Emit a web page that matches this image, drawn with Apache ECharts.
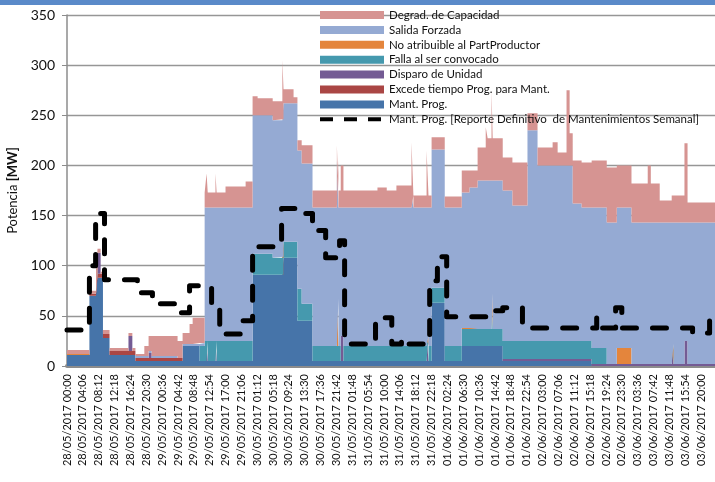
<!DOCTYPE html>
<html><head><meta charset="utf-8">
<script src="https://cdn.jsdelivr.net/npm/echarts@6/dist/echarts.min.js"></script>
<style>html,body{margin:0;padding:0;background:#fff}#c{width:715px;height:482px}</style>
</head><body><div id="c"></div>
<script>
// Hours since 28/05/2017 00:00 where the stacked values change (step: value holds until next point)
const hours = [0,5.8,7.5,7.9,8.7,9.3,11.0,15.9,16.9,17.7,
  20.0,21.1,21.9,28.6,29.9,31.7,32.5,34.3,35.6,36.1,
  36.4,38.4,38.7,41.0,46.2,48.0,49.3,53.2,55.7,56.0,
  58.6,59.6,60.7,63.5,69.8,70.2,70.8,71.5,80.3,82.7,
  85.2,89.1,89.6,93.0,93.5,94.3,97.7,102.1,104.1,106.2,
  108.3,108.8,109.8,110.1,112.7,115.2,119.1,121.7,125.6,126.9,
  129.2,130.0,130.8,133.1,135.7,139.6,142.2,146.0,150.2,151.0,
  153.3,156.4,156.9,159.7,160.5,168];
const mantProg = [11,70,88,88,88,28,11,11,11,5,
  5,5,5,5,20,20,20,5,5,5,
  5,5,5,5,5,91,91,91,91,108,
  108,45,45,5,5,5,5,5,5,5,
  5,5,5,5,5,63,5,20,20,20,
  20,20,20,20,5,5,5,5,5,5,
  5,5,5,5,0,0,0,0,0,0,
  0,0,0,0,0,0];
const excede = [0,2,4,4,4,4,4,4,4,3,
  3,3,3,3,0,0,0,0,0,0,
  0,0,0,0,0,0,0,0,0,0,
  0,0,0,0,0,0,0,0,0,0,
  0,0,0,0,0,0,0,0,0,0,
  0,0,0,0,0,0,0,0,0,0,
  0,0,0,0,0,0,0,0,0,0,
  0,0,0,0,0,0];
const disparo = [0,0,0,21,0,0,0,15,0,0,
  0,5,0,0,0,0,0,0,0,20,
  0,20,0,0,0,0,0,0,0,0,
  0,0,0,0,0,0,25,0,0,0,
  0,0,0,25,0,0,0,0,0,0,
  0,0,0,0,2,2,2,2,2,2,
  2,2,2,2,2,2,2,2,2,2,
  2,22,2,25,2,2];
const falla = [0,0,0,0,0,0,0,0,0,0,
  0,0,0,0,0,0,0,15,20,0,
  20,0,20,20,20,21,21,17,17,16,
  16,32,17,15,15,15,0,15,15,15,
  15,15,15,0,15,15,15,17,17,17,
  17,17,52,17,18,18,18,18,18,18,
  18,18,18,18,16,0,0,0,0,0,
  0,0,0,0,0,0];
const noAtribuible = [1,0,0,0,0,0,0,0,0,0,
  0,0,0,0,0,0,0,0,0,0,
  0,0,0,0,0,0,0,0,1,0,
  0,0,0,0,47,0,0,0,0,0,
  0,0,0,0,0,0,0,1,1,0,
  0,0,0,0,0,0,0,0,0,0,
  0,0,0,0,0,0,16,0,0,0,
  0,0,0,0,0,0];
const salida = [0,0,0,0,0,0,0,0,0,2,
  2,2,2,0,2,2,2,3,133,133,
  133,133,133,133,133,138,138,137,137,138,
  138,138,140,138,138,138,128,138,138,138,
  138,150,138,128,138,138,138,135,140,148,
  148,148,113,148,150,135,210,175,175,175,
  175,175,137,133,140,141,140,141,141,141,
  141,121,141,118,141,141];
const degrad = [4,3,2,4,2,4,3,3,3,2,
  10,15,20,17,11,20,26,25,15,34,
  15,34,15,21,26,19,17,19,59,14,
  6,10,18,17,15,17,42,17,20,17,
  22,53,12,57,12,12,11,22,17,33,
  53,42,90,42,33,43,17,18,23,13,
  75,32,43,45,47,55,42,39,57,39,
  22,27,27,79,20,20];
// Mant. Prog. [Reporte Definitivo] step line
const planHours = [0,5.8,7.4,9.7,18.2,22.1,29.6,31.7,37.4,39.5,
  45.4,48.0,55.5,61.2,63.5,66.9,70.5,71.8,79.8,84.0,
  86.5,87.3,93.8,95.8,98.2,108.8,112.7,117.8,137.0,137.8,
  141.9,143.5,161.8,166.2,168];
const planValues = [36,100,152,86,73,62,53,80,63,32,
  45,119,157,152,135,108,125,22,48,22,
  27,22,85,109,49,55,58,38,48,38,
  58,38,33,50,50];
const tickLabels = ['28/05/2017 00:00','28/05/2017 04:06','28/05/2017 08:12','28/05/2017 12:18','28/05/2017 16:24','28/05/2017 20:30',
  '29/05/2017 00:36','29/05/2017 04:42','29/05/2017 08:48','29/05/2017 12:54','29/05/2017 17:00','29/05/2017 21:06',
  '30/05/2017 01:12','30/05/2017 05:18','30/05/2017 09:24','30/05/2017 13:30','30/05/2017 17:36','30/05/2017 21:42',
  '31/05/2017 01:48','31/05/2017 05:54','31/05/2017 10:00','31/05/2017 14:06','31/05/2017 18:12','31/05/2017 22:18',
  '01/06/2017 02:24','01/06/2017 06:30','01/06/2017 10:36','01/06/2017 14:42','01/06/2017 18:48','01/06/2017 22:54',
  '02/06/2017 03:00','02/06/2017 07:06','02/06/2017 11:12','02/06/2017 15:18','02/06/2017 19:24','02/06/2017 23:30',
  '03/06/2017 03:36','03/06/2017 07:42','03/06/2017 11:48','03/06/2017 15:54','03/06/2017 20:00'];
const tickStep = 4.1; // hours between labels

const names = ['Mant. Prog.','Excede tiempo Prog. para Mant.','Disparo de Unidad','Falla al ser convocado',
  'No atribuible al PartProductor','Salida Forzada','Degrad. de Capacidad'];
const planName = 'Mant. Prog. [Reporte Definitivo  de Mantenimientos Semanal]';
const colors = ['#4674a9','#aa4644','#745b94','#4599ae','#e4853c','#95aad3','#d69492'];
const stacks = [mantProg, excede, disparo, falla, noAtribuible, salida, degrad];

// data stored as [value, hour] with encode so that the value dimension is the stacked one
const series = stacks.map((arr, k) => ({
  name: names[k], type: 'line', stack: 'total', step: 'end', symbol: 'none',
  data: hours.map((h, i) => [arr[i], h]),
  encode: {x: 1, y: 0},
  color: colors[k],
  itemStyle: {color: colors[k]},
  lineStyle: {width: 0},
  areaStyle: {color: colors[k], opacity: 1},
  emphasis: {disabled: true}, silent: true, z: 2
}));
series.push({
  name: planName, type: 'line', step: 'end', symbol: 'none', showSymbol: false,
  data: planHours.map((h, i) => [planValues[i], h]),
  encode: {x: 1, y: 0},
  color: '#000',
  lineStyle: {color: '#000', width: 5, type: [14, 16], cap: 'round', join: 'round'},
  emphasis: {disabled: true}, silent: true, z: 5
});

const legendData = names.slice().reverse().map(n => ({name: n, icon: 'rect'}));
legendData.push({name: planName, itemStyle: {opacity: 0}, lineStyle: {width: 4, type: [13, 11], cap: 'butt'}});

const chart = echarts.init(document.getElementById('c'));
chart.setOption({
  animation: false,
  textStyle: {fontFamily: 'Lato, sans-serif'},
  graphic: [{type: 'rect', shape: {x: 0, y: 0, width: 715, height: 5}, style: {fill: '#5a8ac9'}, z: 100}],
  grid: {left: 67, right: 0, top: 15, bottom: 116, containLabel: false, outerBoundsMode: 'none'},
  legend: {
    orient: 'vertical', left: 313, top: 4, itemWidth: 64, itemHeight: 8, itemGap: 2.9,
    textStyle: {fontSize: 11.5, color: '#111', lineHeight: 12, fontFamily: 'Lato, sans-serif'},
    data: legendData, selectedMode: false
  },
  xAxis: {
    type: 'value', min: 0, max: 167.6, interval: tickStep,
    splitLine: {show: false},
    axisLine: {show: true, lineStyle: {color: '#8c8c8c', width: 4}},
    axisTick: {show: false},
    axisLabel: {
      rotate: 90, fontSize: 11, color: '#111', margin: 8, showMaxLabel: false,
      formatter: v => { const i = Math.round(v / tickStep); return Math.abs(v - i * tickStep) < 0.01 ? (tickLabels[i] || '') : ''; }
    }
  },
  yAxis: {
    type: 'value', min: 0, max: 350, interval: 50,
    axisLine: {show: true, lineStyle: {color: '#8c8c8c', width: 1.5}},
    axisTick: {show: true, length: 5, lineStyle: {color: '#8c8c8c'}},
    splitLine: {show: true, lineStyle: {color: '#969696', width: 1.3}},
    axisLabel: {fontSize: 14, color: '#111', margin: 12},
    name: '{a|Potencia }{b|[MW]}', nameLocation: 'middle', nameGap: 45, nameRotate: 90,
    nameTextStyle: {rich: {a: {fontSize: 13, color: '#111'}, b: {fontSize: 13, fontWeight: 'bold', color: '#111'}}}
  },
  series: series
});
</script></body></html>
